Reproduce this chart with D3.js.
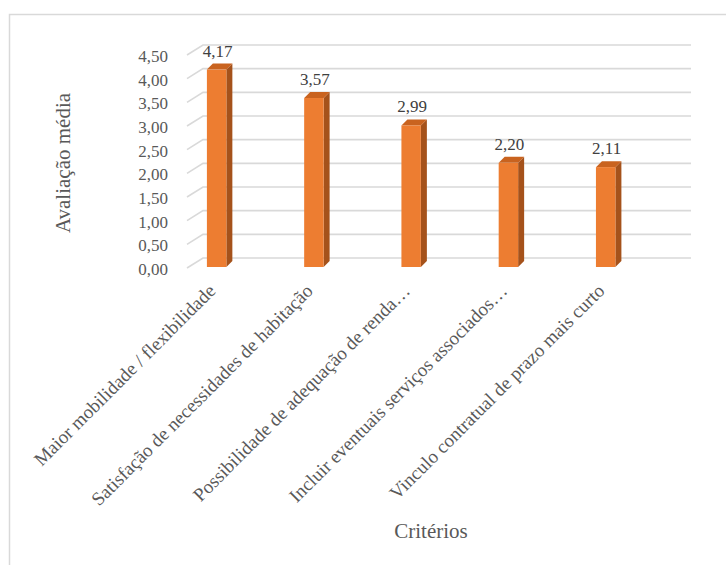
<!DOCTYPE html>
<html>
<head>
<meta charset="utf-8">
<script src="https://cdn.jsdelivr.net/npm/d3@7"></script>
<style>
  html, body { margin: 0; padding: 0; background: #fff; }
  svg { display: block; }
</style>
</head>
<body>
<svg id="chart" width="726" height="565" font-family="'Liberation Serif', 'DejaVu Serif', serif"></svg>
<script>
// Criteria and their mean ratings
const categories = [
  "Maior mobilidade / flexibilidade",
  "Satisfação de necessidades de habitação",
  "Possibilidade de adequação de renda…",
  "Incluir eventuais serviços associados…",
  "Vinculo contratual de prazo mais curto"
];
const values = [4.17, 3.57, 2.99, 2.20, 2.11];
const yTicks = [0, 0.5, 1, 1.5, 2, 2.5, 3, 3.5, 4, 4.5];
const yTitle = "Avaliação média";
const xTitle = "Critérios";

const svg = d3.select("#chart");
const fmt = v => d3.format(".2f")(v).replace(".", ",");

// Pseudo-3D geometry: back wall offset from the front plane
const wallDX = 16, wallDY = 10;
const frontLeft = 187, backRight = 691;
const baseFront = 268;

// Value scale on the front plane
const y = d3.scaleLinear().domain([0, 4.5]).range([baseFront, baseFront - 213]);
const xBand = d3.scaleBand().domain(categories)
  .range([168, 654.3]).paddingInner(0.8).paddingOuter(0.4);

// Chart frame
svg.append("rect")
  .attr("x", 9.5).attr("y", 14.5).attr("width", 800).attr("height", 600)
  .attr("fill", "none").attr("stroke", "#d9d9d9").attr("stroke-width", 1.5);

// Gridlines on the back wall with short floor diagonals
const grid = svg.append("g").attr("stroke", "#d9d9d9").attr("stroke-width", 1.6).attr("fill", "none");
grid.selectAll("path").data(yTicks).join("path")
  .attr("d", t => {
    const yf = y(t), yb = yf - wallDY;
    return `M${frontLeft},${yf}L${frontLeft + wallDX},${yb}L${backRight},${yb}`;
  });

// Y tick labels
svg.append("g").selectAll("text").data(yTicks).join("text")
  .attr("x", 168).attr("y", t => y(t) + 3)
  .attr("text-anchor", "end").attr("dominant-baseline", "middle")
  .attr("font-size", 17).attr("fill", "#595959")
  .text(fmt);

// Bars as prisms
const bdx = 6, bdy = 6;
const baseBar = baseFront - 1;
const yBar = d3.scaleLinear().domain([0, 4.5]).range([baseBar, baseBar - 213]);
const bars = svg.append("g").selectAll("g").data(categories).join("g");
bars.append("path")
  .attr("fill", "#A5521B")
  .attr("d", (c, i) => {
    const x0 = xBand(c) + xBand.bandwidth(), t = yBar(values[i]);
    return `M${x0},${t}L${x0 + bdx},${t - bdy}L${x0 + bdx},${baseBar - bdy}L${x0},${baseBar}Z`;
  });
bars.append("path")
  .attr("fill", "#C9631F")
  .attr("d", (c, i) => {
    const x0 = xBand(c), w = xBand.bandwidth(), t = yBar(values[i]);
    return `M${x0},${t}L${x0 + bdx},${t - bdy}L${x0 + w + bdx},${t - bdy}L${x0 + w},${t}Z`;
  });
bars.append("rect")
  .attr("fill", "#ED7D31")
  .attr("x", c => xBand(c))
  .attr("y", (c, i) => yBar(values[i]))
  .attr("width", xBand.bandwidth())
  .attr("height", (c, i) => baseBar - yBar(values[i]));

// Value labels
bars.append("text")
  .attr("x", c => xBand(c) + xBand.bandwidth() / 2 + 1)
  .attr("y", (c, i) => yBar(values[i]) - 13)
  .attr("text-anchor", "middle")
  .attr("font-size", 17).attr("fill", "#404040")
  .text((c, i) => fmt(values[i]));

// Rotated category labels
svg.append("g").selectAll("text").data(categories).join("text")
  .attr("transform", c => `translate(${xBand(c) + xBand.bandwidth() / 2},${292}) rotate(-45)`)
  .attr("text-anchor", "end")
  .attr("font-size", 19).attr("fill", "#595959")
  .text(c => c);

// Axis titles
svg.append("text")
  .attr("transform", "translate(70,163) rotate(-90)")
  .attr("text-anchor", "middle")
  .attr("font-size", 21).attr("fill", "#595959")
  .text(yTitle);
svg.append("text")
  .attr("x", 431).attr("y", 538)
  .attr("text-anchor", "middle")
  .attr("font-size", 21).attr("fill", "#595959")
  .text(xTitle);
</script>
</body>
</html>
